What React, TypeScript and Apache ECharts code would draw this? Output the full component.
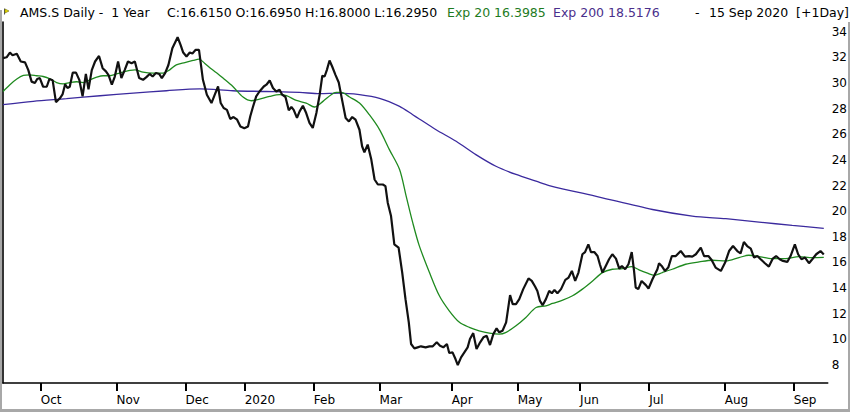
import React, { useEffect, useRef } from "react";
import * as echarts from "echarts";

// Trading-day index (0 = first session shown) and price
const closePrices: [number, number][] = [
  [0, 31.93], [1.1, 32.0], [2.1, 32.37], [2.9, 32.16], [4.2, 32.27], [5.4, 31.67], [6.7, 31.6], [7.7, 31.0],
  [8.7, 30.1], [9.7, 29.99], [10.4, 30.3], [11.2, 30.38], [12.2, 29.7], [13.3, 29.7], [14.1, 30.3], [15.1, 30.2],
  [16.1, 28.5], [17.3, 28.8], [18.1, 29.1], [18.9, 29.9], [19.6, 29.6], [20.3, 29.7], [21.2, 30.8], [22.2, 30.8],
  [23.2, 30.24], [24.2, 28.95], [25.2, 30.7], [26.0, 29.5], [27.0, 31.0], [28.0, 31.67], [29.2, 32.1], [30.3, 31.15],
  [31.3, 30.9], [32.1, 30.6], [33.1, 29.86], [34.0, 30.5], [35.0, 31.67], [36.0, 30.38], [37.0, 31.0], [38.0, 31.67],
  [39.1, 31.54], [40.1, 31.67], [41.4, 30.38], [42.6, 30.24], [43.6, 30.45], [44.6, 30.7], [45.5, 30.5], [46.5, 30.77],
  [47.5, 30.7], [48.3, 30.38], [49.3, 30.77], [50.3, 31.4], [51.5, 32.7], [53.1, 33.56], [54.0, 32.97], [54.8, 32.37],
  [55.8, 32.06], [56.8, 32.37], [57.6, 32.3], [58.6, 32.58], [59.6, 32.58], [60.8, 30.24], [62.0, 29.08], [63.4, 28.43],
  [64.4, 29.08], [65.4, 29.72], [66.2, 28.43], [67.1, 28.04], [68.1, 27.9], [69.1, 27.19], [70.1, 27.34], [71.2, 27.13],
  [72.2, 26.6], [73.4, 26.46], [74.5, 26.6], [75.2, 27.4], [76.0, 28.12], [77.0, 28.95], [78.0, 29.33], [79.3, 29.72],
  [80.1, 29.86], [81.1, 30.19], [82.1, 29.6], [83.1, 29.33], [84.1, 29.47], [84.9, 29.08], [85.9, 28.9], [86.9, 27.86],
  [87.7, 28.12], [88.4, 27.9], [89.4, 27.27], [90.2, 27.78], [91.2, 28.22], [92.2, 27.65], [93.2, 26.88], [94.2, 26.49],
  [95.3, 27.65], [96.3, 29.08], [97.1, 30.56], [97.8, 30.5], [98.5, 31.02], [99.3, 31.75], [100.1, 31.28], [101.1, 30.63],
  [102.1, 30.03], [103.2, 28.56], [104.2, 27.27], [105.2, 27.0], [106.2, 27.34], [107.2, 27.13], [108.4, 26.35], [109.2, 25.06],
  [109.9, 24.59], [110.9, 25.19], [112.0, 24.02], [113.0, 22.47], [114.0, 22.08], [115.5, 22.08], [116.3, 21.95], [117.0, 20.66],
  [118.0, 19.62], [119.0, 17.41], [120.3, 17.16], [121.4, 15.21], [122.4, 13.14], [123.4, 11.33], [124.1, 9.64], [125.1, 9.3],
  [126.1, 9.38], [127.1, 9.46], [128.5, 9.38], [129.7, 9.46], [130.7, 9.46], [131.9, 9.77], [132.9, 9.5], [133.9, 9.38],
  [135.0, 9.64], [135.7, 8.94], [136.7, 8.99], [137.6, 8.47], [138.3, 8.0], [139.3, 8.6], [140.3, 8.99], [141.3, 9.38],
  [142.0, 10.03], [143.0, 10.49], [144.0, 9.25], [145.1, 9.77], [146.1, 10.16], [147.1, 10.28], [148.1, 9.56], [149.1, 10.41],
  [150.1, 10.86], [150.9, 10.55], [151.9, 10.67], [153.0, 11.33], [154.2, 13.45], [155.0, 12.75], [156.0, 12.75], [157.0, 13.14],
  [158.2, 13.92], [159.8, 14.75], [160.8, 14.56], [161.8, 14.12], [162.5, 13.78], [163.3, 13.0], [164.1, 12.67], [165.1, 13.14],
  [166.1, 13.78], [166.9, 13.6], [167.7, 13.86], [168.6, 13.6], [169.7, 13.92], [171.0, 14.64], [172.0, 14.82], [173.0, 15.34],
  [174.0, 14.56], [175.0, 15.21], [176.2, 16.64], [177.0, 16.81], [178.0, 17.41], [178.8, 16.81], [179.8, 16.81], [180.8, 16.5],
  [181.5, 15.86], [182.3, 15.21], [183.3, 15.73], [184.3, 16.25], [185.3, 16.64], [186.4, 16.3], [187.4, 15.52], [188.2, 15.73],
  [189.2, 15.47], [190.2, 15.86], [191.2, 16.81], [191.9, 15.34], [192.4, 14.05], [193.2, 13.92], [194.2, 14.56], [195.5, 14.23],
  [196.3, 13.97], [197.5, 14.69], [199.0, 15.47], [199.5, 15.94], [200.3, 15.73], [201.3, 15.34], [202.3, 15.6], [203.4, 16.5],
  [204.6, 16.5], [206.1, 16.89], [207.4, 16.46], [208.6, 16.5], [209.6, 16.46], [210.7, 16.64], [212.2, 17.16], [213.2, 16.5],
  [214.5, 16.5], [215.5, 16.19], [216.7, 15.6], [218.3, 15.34], [219.6, 15.99], [220.8, 16.89], [222.0, 17.28], [223.3, 16.89],
  [224.3, 16.71], [225.3, 17.59], [226.3, 17.28], [227.4, 17.08], [228.4, 16.38], [229.4, 16.5], [230.4, 16.25], [231.7, 15.94],
  [232.9, 15.68], [234.1, 16.3], [235.1, 16.5], [236.2, 16.25], [237.2, 16.12], [238.5, 16.04], [239.5, 16.5], [240.8, 17.41],
  [241.8, 16.64], [242.8, 16.25], [243.9, 16.38], [245.1, 15.94], [246.1, 16.25], [247.3, 16.64], [248.6, 16.89], [249.6, 16.62],
];

const exp20: [number, number][] = [
  [0, 29.33], [2.1, 29.86], [4.2, 30.3], [6.2, 30.58], [8.2, 30.63], [10.2, 30.56], [12.2, 30.5], [14.3, 30.32],
  [16.3, 30.03], [18.3, 29.93], [20.3, 30.03], [22.4, 30.09], [24.4, 30.03], [26.4, 30.24], [28.5, 30.45], [30.5, 30.56],
  [32.5, 30.56], [34.5, 30.7], [36.5, 30.84], [38.6, 30.97], [40.1, 31.02], [42.6, 30.84], [45.6, 30.77], [48.7, 30.77],
  [50.7, 31.02], [52.7, 31.41], [55.3, 31.59], [57.8, 31.75], [59.6, 31.85], [61.3, 31.54], [63.4, 31.08], [65.4, 30.7],
  [66.9, 30.38], [69.9, 29.72], [73.0, 28.9], [75.5, 28.61], [78.0, 28.74], [81.1, 28.95], [84.1, 29.08], [86.2, 29.0],
  [89.2, 28.63], [92.2, 28.43], [94.7, 28.12], [97.3, 28.56], [99.8, 29.08], [101.3, 29.26], [102.9, 29.26], [105.4, 28.9],
  [108.4, 28.43], [111.4, 27.52], [114.5, 26.36], [117.5, 24.8], [120.6, 23.25], [122.6, 21.17], [124.6, 19.1], [126.6, 17.29],
  [129.7, 15.21], [132.7, 13.4], [135.7, 12.23], [138.8, 11.33], [141.8, 10.94], [144.8, 10.67], [147.9, 10.49], [150.9, 10.41],
  [153.0, 10.55], [156.0, 11.06], [159.0, 11.71], [162.1, 12.49], [165.1, 12.62], [167.1, 12.8], [170.2, 13.06], [173.2, 13.4],
  [176.2, 13.92], [179.3, 14.56], [182.3, 15.21], [185.3, 15.47], [188.4, 15.52], [191.2, 15.68], [193.4, 15.42], [196.0, 15.16],
  [198.0, 15.0], [200.5, 15.21], [203.5, 15.47], [207.6, 15.86], [211.7, 16.04], [215.7, 16.17], [219.8, 16.12], [223.8, 16.38],
  [226.8, 16.56], [229.9, 16.46], [233.9, 16.3], [238.0, 16.3], [242.0, 16.46], [246.1, 16.38], [249.6, 16.4],
];

const exp200: [number, number][] = [
  [0, 28.3], [9.2, 28.56], [19.3, 28.77], [29.5, 29.0], [39.6, 29.2], [49.7, 29.39], [59.8, 29.53], [69.9, 29.39],
  [80.1, 29.33], [90.2, 29.26], [96.3, 29.16], [102.3, 29.2], [108.4, 29.08], [114.5, 28.8], [120.6, 28.17], [124.6, 27.52],
  [126.6, 27.19], [131.7, 26.35], [137.8, 25.45], [143.8, 24.41], [149.9, 23.5], [156.0, 22.86], [162.1, 22.34], [166.1, 22.0],
  [181.3, 21.1], [197.5, 20.13], [209.6, 19.62], [219.8, 19.41], [229.9, 19.15], [240.0, 18.89], [249.6, 18.66],
];

// Month boundaries (trading-day index) and their labels
const monthTicks: number[] = [11.5, 34.5, 55.5, 73.5, 94.5, 114.5, 136.5, 156.5, 175.5, 196.5, 219.5, 240.5];
const monthLabels: string[] = ["Oct", "Nov", "Dec", "2020", "Feb", "Mar", "Apr", "May", "Jun", "Jul", "Aug", "Sep"];
const priceTicks: number[] = [8, 10, 12, 14, 16, 18, 20, 22, 24, 26, 28, 30, 32, 34];

const headerMain = "AMS.S Daily -  1 Year";
const headerOHLC = "C:16.6150 O:16.6950 H:16.8000 L:16.2950";
const headerExp20 = "Exp 20 16.3985";
const headerExp200 = "Exp 200 18.5176";
const headerDate = "15 Sep 2020  [+1Day]";

const FONT = "DejaVu Sans";

export default function App() {
  const ref = useRef<HTMLDivElement>(null);
  useEffect(() => {
    if (!ref.current) return;
    const chart = echarts.init(ref.current, undefined, { renderer: "svg" });
    const txt = (text: string, x: number, fill: string, align = "left") => ({
      type: "text",
      x,
      y: 12.5,
      style: { text, fill, fontSize: 12.5, fontFamily: FONT, verticalAlign: "middle", align },
    });
    chart.setOption({
      animation: false,
      backgroundColor: "#ffffff",
      grid: { left: 3, right: 22, top: 22, bottom: 29, containLabel: false },
      xAxis: {
        type: "value",
        min: 0,
        max: 250.8,
        splitLine: { show: false },
        axisLine: { show: true, lineStyle: { color: "#000", width: 1.6 } },
        axisTick: { show: true, customValues: monthTicks, length: 8, lineStyle: { color: "#000", width: 2 } },
        axisLabel: {
          show: true,
          customValues: monthTicks,
          formatter: (v: number) => {
            const i = monthTicks.findIndex((t) => Math.abs(t - v) < 0.01);
            return i >= 0 ? monthLabels[i] : "";
          },
          align: "left",
          margin: 11,
          color: "#000",
          fontSize: 12,
          fontFamily: FONT,
        },
      },
      yAxis: {
        type: "value",
        position: "right",
        min: 6.6,
        max: 34.75,
        splitLine: { show: false },
        axisLine: { show: true, lineStyle: { color: "#000", width: 1.6 } },
        axisTick: { show: false },
        axisLabel: {
          show: true,
          customValues: priceTicks,
          margin: 4,
          color: "#000",
          fontSize: 12,
          fontFamily: FONT,
        },
      },
      series: [
        {
          name: "Exp 200",
          type: "line",
          data: exp200,
          showSymbol: false,
          smooth: 0.3,
          lineStyle: { color: "#3b2a9e", width: 1.3 },
          z: 2,
        },
        {
          name: "Exp 20",
          type: "line",
          data: exp20,
          showSymbol: false,
          smooth: 0.3,
          lineStyle: { color: "#1f8a1f", width: 1.3 },
          z: 3,
        },
        {
          name: "AMS.S",
          type: "line",
          data: closePrices,
          showSymbol: false,
          lineStyle: { color: "#111", width: 2.2 },
          z: 4,
        },
      ],
      graphic: [
        { type: "line", shape: { x1: 1, y1: 10, x2: 1, y2: 412 }, style: { stroke: "#a8a8a8", lineWidth: 2 } },
        { type: "line", shape: { x1: 0, y1: 410.5, x2: 850, y2: 410.5 }, style: { stroke: "#a8a8a8", lineWidth: 3 } },
        { type: "line", shape: { x1: 849, y1: 22, x2: 849, y2: 412 }, style: { stroke: "#a8a8a8", lineWidth: 2 } },
        { type: "line", shape: { x1: 4.5, y1: 8.5, x2: 4.5, y2: 14.5 }, style: { stroke: "#555", lineWidth: 1 } },
        {
          type: "polygon",
          shape: { points: [[5, 9], [9, 11], [5, 13]] },
          style: { fill: "#f0e000", stroke: "#6b6b00", lineWidth: 0.6 },
        },
        txt(headerMain, 20, "#000"),
        txt(headerOHLC, 167, "#000"),
        txt(headerExp20, 447, "#1e7b1e"),
        txt(headerExp200, 553, "#4a2f8c"),
        txt("-", 695, "#000"),
        txt(headerDate, 849, "#000", "right"),
      ],
    });
    return () => chart.dispose();
  }, []);
  return (
    <div
      ref={ref}
      style={{ position: "fixed", left: 0, top: 0, width: 850, height: 412, background: "#fff" }}
    />
  );
}
